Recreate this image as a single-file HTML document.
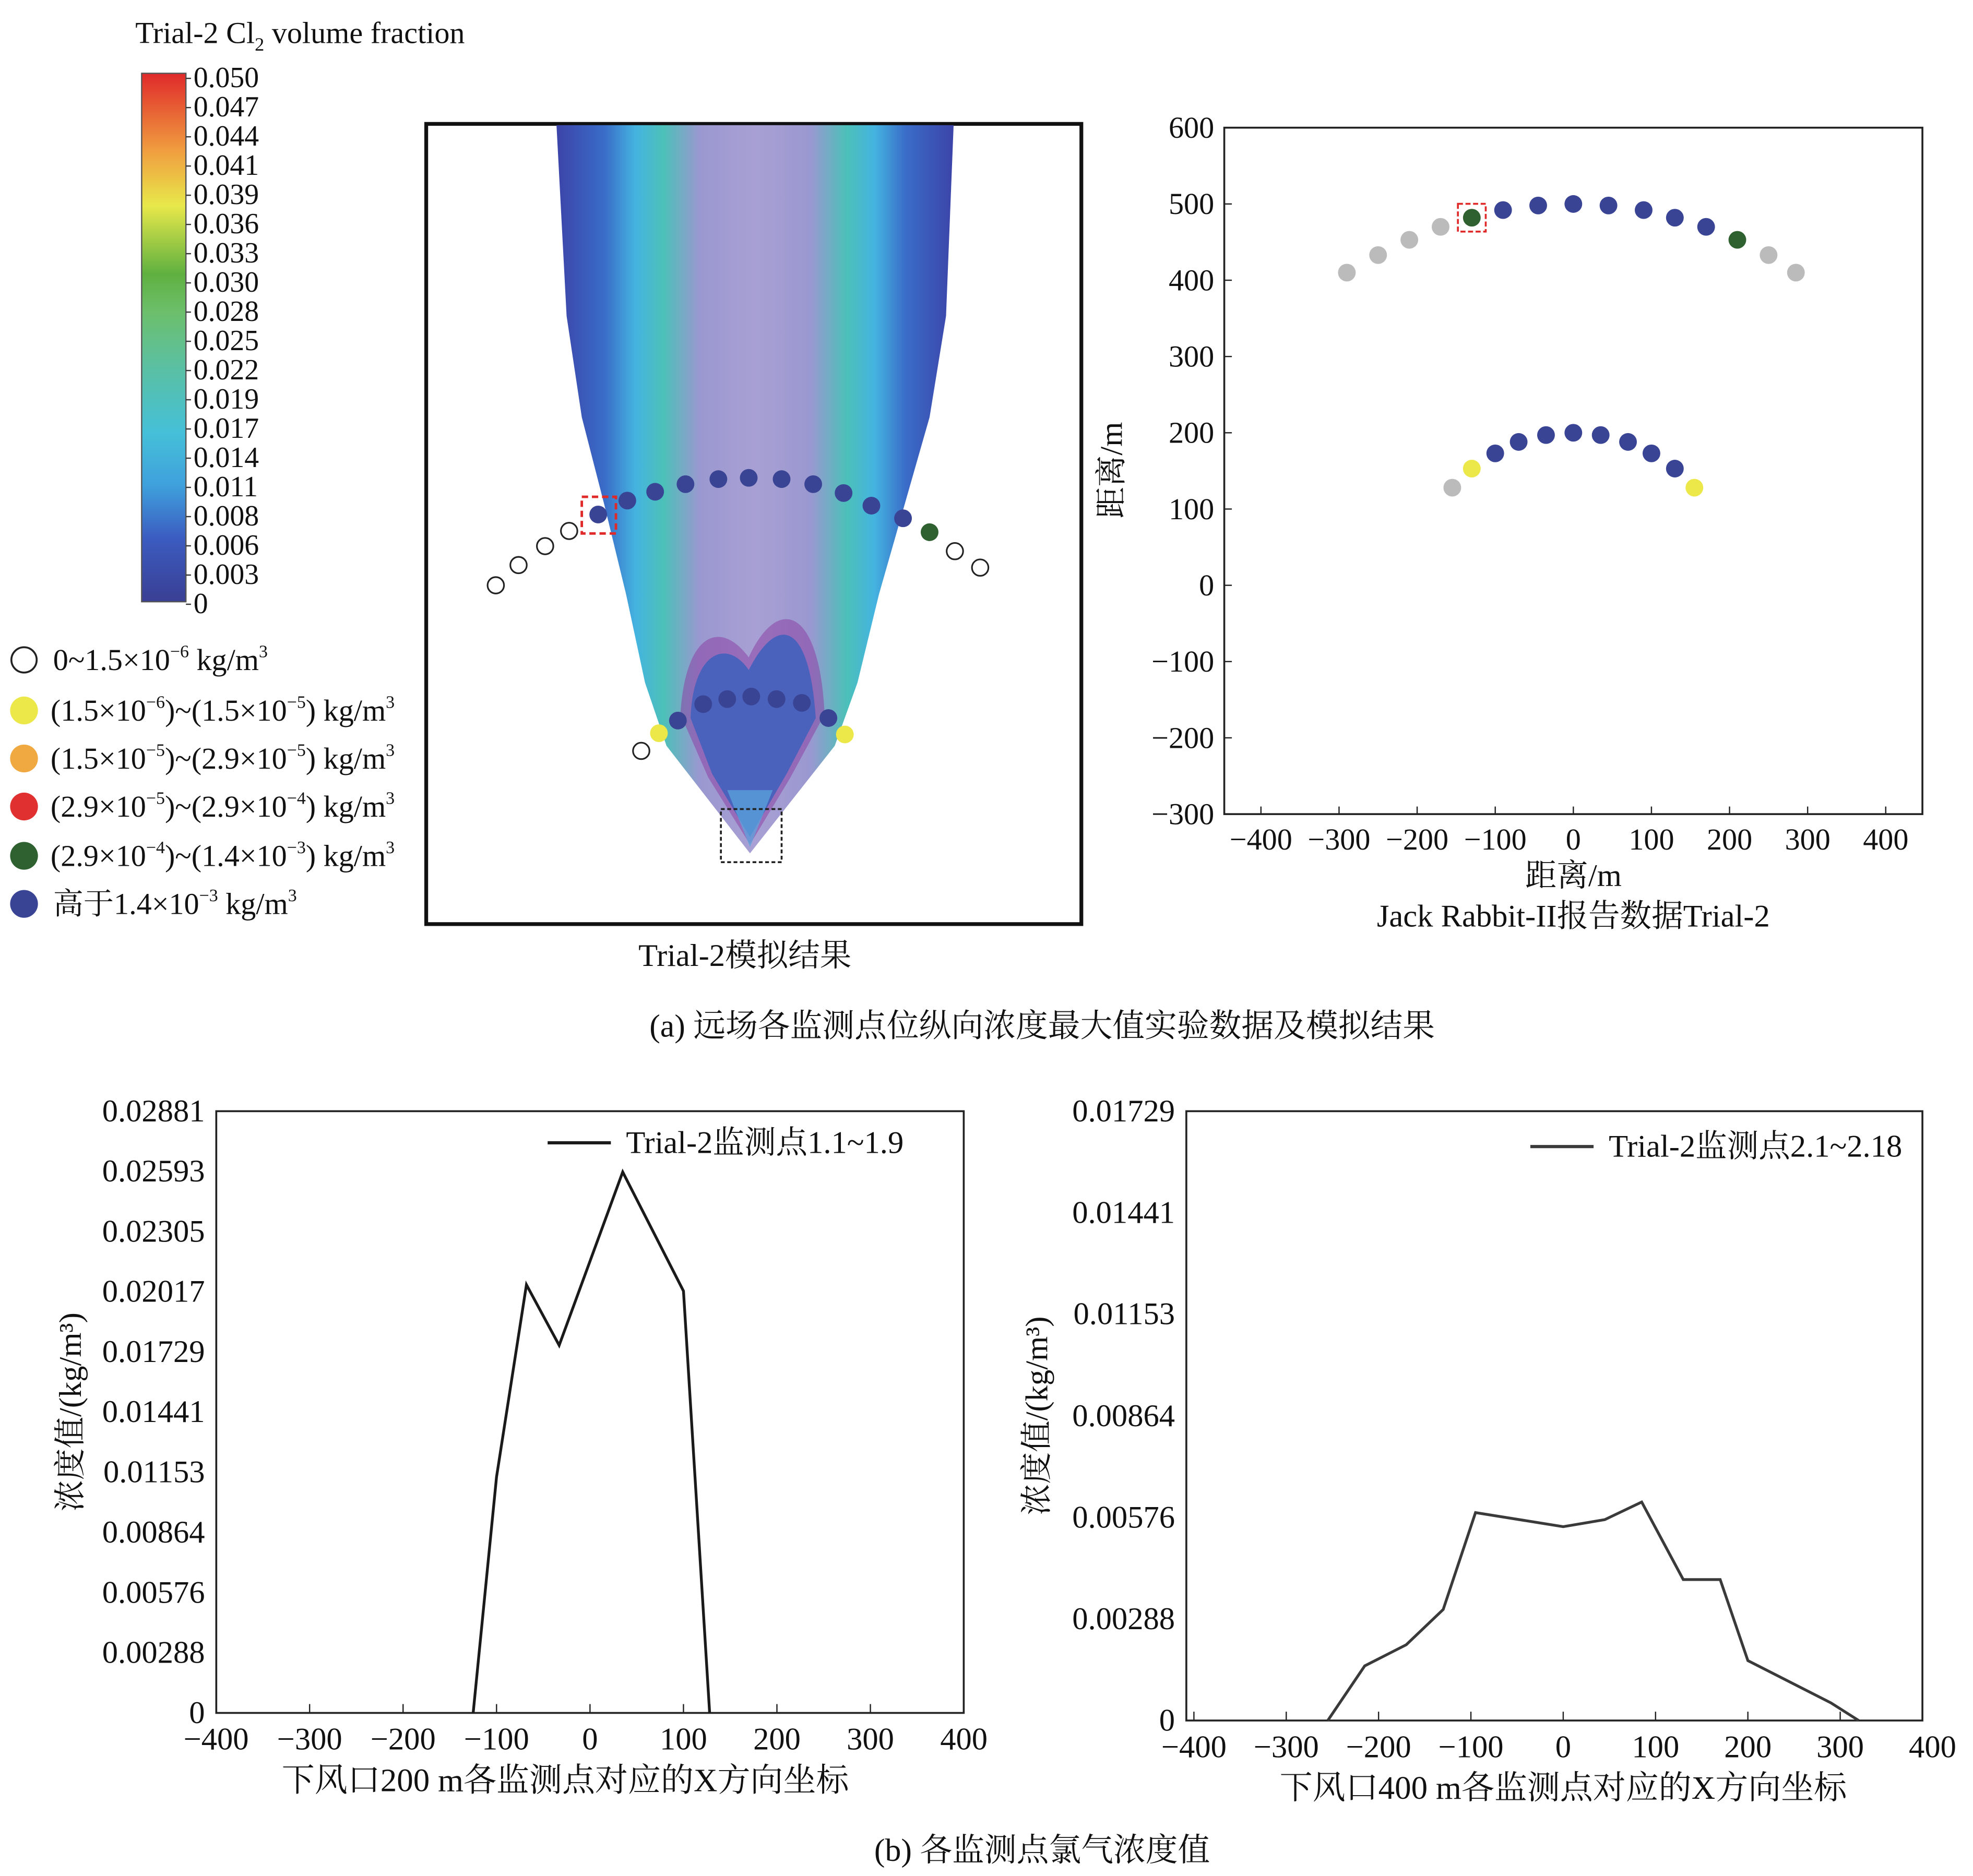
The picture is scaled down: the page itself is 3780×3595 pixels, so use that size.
<!DOCTYPE html>
<html><head><meta charset="utf-8"><style>
html,body{margin:0;padding:0;background:#fff}
svg{display:block}
text{font-family:"Liberation Serif","Noto Serif CJK SC","Noto Sans CJK SC",serif;fill:#111}
</style></head><body>
<svg id="fig" width="3780" height="3595" viewBox="0 0 1560 1484" preserveAspectRatio="none" xmlns="http://www.w3.org/2000/svg">
<defs>
<linearGradient id="cbar" x1="0" y1="1" x2="0" y2="0">
<stop offset="0" stop-color="#3a3f94"/><stop offset="0.12" stop-color="#3b5cc0"/><stop offset="0.22" stop-color="#3fa0dc"/><stop offset="0.32" stop-color="#45c0d8"/><stop offset="0.45" stop-color="#5cc0a0"/><stop offset="0.55" stop-color="#6cbf6a"/><stop offset="0.62" stop-color="#5fb040"/><stop offset="0.75" stop-color="#e8e84a"/><stop offset="0.85" stop-color="#f0a040"/><stop offset="1" stop-color="#e02a2a"/>
</linearGradient>
<linearGradient id="plume" x1="0" y1="0" x2="1" y2="0">
<stop offset="0" stop-color="#3c44a8"/><stop offset="0.12" stop-color="#3a6cc8"/><stop offset="0.2" stop-color="#44b4e0"/><stop offset="0.27" stop-color="#4cc0b8"/><stop offset="0.36" stop-color="#9a98d0"/><stop offset="0.5" stop-color="#a8a0d4"/><stop offset="0.64" stop-color="#9a98d0"/><stop offset="0.73" stop-color="#4cc0b8"/><stop offset="0.8" stop-color="#44b4e0"/><stop offset="0.88" stop-color="#3a6cc8"/><stop offset="1" stop-color="#3c44a8"/>
</linearGradient>
</defs>

<g>
<text x="107" y="34" font-size="24">Trial-2 Cl<tspan font-size="15" dy="6">2</tspan><tspan dy="-6"> volume fraction</tspan></text>
<rect x="112" y="58" width="35" height="418" fill="url(#cbar)" stroke="#555" stroke-width="1"/>
<g id="cbticks" font-size="23"></g>
</g>

<g font-size="24">
<circle cx="19" cy="522" r="10" fill="#fff" stroke="#222" stroke-width="1.5"/><text x="42" y="530">0~1.5×10<tspan font-size="14" dy="-10">−6</tspan><tspan dy="10"> kg/m</tspan><tspan font-size="14" dy="-10">3</tspan></text>
<circle cx="19" cy="562" r="11" fill="#ece84a"/><text x="40" y="570">(1.5×10<tspan font-size="14" dy="-10">−6</tspan><tspan dy="10">)~(1.5×10</tspan><tspan font-size="14" dy="-10">−5</tspan><tspan dy="10">) kg/m</tspan><tspan font-size="14" dy="-10">3</tspan></text>
<circle cx="19" cy="600" r="11" fill="#f0a840"/><text x="40" y="608">(1.5×10<tspan font-size="14" dy="-10">−5</tspan><tspan dy="10">)~(2.9×10</tspan><tspan font-size="14" dy="-10">−5</tspan><tspan dy="10">) kg/m</tspan><tspan font-size="14" dy="-10">3</tspan></text>
<circle cx="19" cy="638" r="11" fill="#e03030"/><text x="40" y="646">(2.9×10<tspan font-size="14" dy="-10">−5</tspan><tspan dy="10">)~(2.9×10</tspan><tspan font-size="14" dy="-10">−4</tspan><tspan dy="10">) kg/m</tspan><tspan font-size="14" dy="-10">3</tspan></text>
<circle cx="19" cy="677" r="11" fill="#2f6030"/><text x="40" y="685">(2.9×10<tspan font-size="14" dy="-10">−4</tspan><tspan dy="10">)~(1.4×10</tspan><tspan font-size="14" dy="-10">−3</tspan><tspan dy="10">) kg/m</tspan><tspan font-size="14" dy="-10">3</tspan></text>
<circle cx="19" cy="715" r="11" fill="#3a4494"/><text x="42" y="723">高于1.4×10<tspan font-size="14" dy="-10">−3</tspan><tspan dy="10"> kg/m</tspan><tspan font-size="14" dy="-10">3</tspan></text>
</g>

<g>
<rect x="337" y="98" width="518" height="633" fill="#fff" stroke="#111" stroke-width="3"/>
<path d="M440,99 L754,99 L748,250 L735,330 L715,400 L695,470 L678,540 L660,590 L593,675 L527,590 L510,540 L495,470 L478,400 L460,330 L448,250 Z" fill="url(#plume)"/>
<path d="M538,565 C542,500 570,490 592,520 C615,470 648,480 652,565 L625,615 L593,668 L560,615 Z" fill="#8a3aa0" opacity="0.5"/>
<path d="M546,568 C548,515 575,505 592,530 C615,485 640,492 645,568 L622,612 L593,662 L563,612 Z" fill="#4a62bc"/>
<path d="M575,625 L593,670 L611,625 Z" fill="#5aa8e0" opacity="0.7"/>
<rect x="570" y="640" width="48" height="42" fill="none" stroke="#222" stroke-width="1.5" stroke-dasharray="3,2"/>
<g id="simpts"></g>
<rect x="460" y="393" width="27" height="29" fill="none" stroke="#e02a2a" stroke-width="2" stroke-dasharray="5,3"/>
<text x="589" y="764" font-size="25" text-anchor="middle">Trial-2模拟结果</text>
</g>

<g id="scatter"></g>
<text x="824" y="820" font-size="25.5" text-anchor="middle">(a) 远场各监测点位纵向浓度最大值实验数据及模拟结果</text>

<g id="line1"></g>
<g id="line2"></g>
<text x="824" y="1472" font-size="25.5" text-anchor="middle">(b) 各监测点氯气浓度值</text>
</svg>
<script>
const NS='http://www.w3.org/2000/svg';
function mk(tag,attrs,parent,txt){const e=document.createElementNS(NS,tag);for(const k in attrs)e.setAttribute(k,attrs[k]);if(txt!==undefined)e.textContent=txt;parent.appendChild(e);return e;}

const cbLabels=['0.050','0.047','0.044','0.041','0.039','0.036','0.033','0.030','0.028','0.025','0.022','0.019','0.017','0.014','0.011','0.008','0.006','0.003','0'];
const cbg=document.getElementById('cbticks');
cbLabels.forEach((l,i)=>{const y=62+i*(416/18);
const t=mk('text',{x:153,y:y+7},cbg,l);


mk('line',{x1:147,x2:151,y1:y,y2:y,stroke:'#333'},cbg);});

const simX=[392,410,431,450,473,496,518,542,568,592,618,643,667,689,714,735,755,775,507,521,536,556,575,594,614,634,655,668];
const simY=[463,447,432,420,407,396,389,383,379,378,379,383,390,400,410,421,436,449,594,580,570,557,553,551,553,556,568,581];
const simC=['w','w','w','w','b','b','b','b','b','b','b','b','b','b','b','g','w','w','w','y','b','b','b','b','b','b','b','y'];
const colMap={w:'#fff',b:'#3a4494',g:'#2f6030',y:'#ece84a',r:'#bbb'};
const sg=document.getElementById('simpts');
simX.forEach((x,i)=>{const c=mk('circle',{cx:x,cy:simY[i],r:simC[i]==='w'?6.5:7,fill:colMap[simC[i]],stroke:simC[i]==='w'?'#222':'none','stroke-width':1.3},sg);

});

const scX=[-290,-250,-210,-170,-130,-90,-45,0,45,90,130,170,210,250,285,-155,-130,-100,-70,-35,0,35,70,100,130,155];
const scY=[410,433,453,470,482,492,498,500,498,492,482,470,453,433,410,128,153,173,188,197,200,197,188,173,153,128];
const scC=['r','r','r','r','g','b','b','b','b','b','b','b','g','r','r','r','y','b','b','b','b','b','b','b','b','y'];
const scXTicks=[-400,-300,-200,-100,0,100,200,300,400];
const scYTicks=[600,500,400,300,200,100,0,-100,-200,-300];
(function(){
const g=document.getElementById('scatter');
const L=968,R=1520,T=101,B=644;
const sx=v=>1244+v*0.6175, sy=v=>463+(-v)*0.6033;
mk('rect',{x:L,y:T,width:R-L,height:B-T,fill:'none',stroke:'#222','stroke-width':1.5},g);
scXTicks.forEach(v=>{mk('line',{x1:sx(v),x2:sx(v),y1:B,y2:B-6,stroke:'#222'},g);
const t=mk('text',{x:sx(v),y:B+28,'font-size':24,'text-anchor':'middle'},g,v<0?'−'+(-v):v);
});
scYTicks.forEach(v=>{mk('line',{x1:L,x2:L+6,y1:sy(v),y2:sy(v),stroke:'#222'},g);
const t=mk('text',{x:L-8,y:sy(v)+8,'font-size':24,'text-anchor':'end'},g,v<0?'−'+(-v):v);
});
scX.forEach((x,i)=>{const c=mk('circle',{cx:sx(x),cy:sy(scY[i]),r:7,fill:colMap[scC[i]]},g);
});
mk('rect',{x:sx(-130)-11,y:sy(482)-11,width:22,height:22,fill:'none',stroke:'#e02a2a','stroke-width':1.5,'stroke-dasharray':'4,2'},g);
const yl=mk('text',{x:0,y:0,'font-size':25,'text-anchor':'middle',transform:'translate(887,372) rotate(-90)'},g,'距离/m');

const xl=mk('text',{x:1244,y:701,'font-size':25,'text-anchor':'middle'},g,'距离/m');

const st=mk('text',{x:1244,y:733,'font-size':25,'text-anchor':'middle'},g,'Jack Rabbit-II报告数据Trial-2');

})();

const l1X=[-125,-100,-68,-33,35,100,128];
const l1Y=[0,0.0113,0.0205,0.0176,0.0259,0.0202,0];
const l1YTicks=['0','0.00288','0.00576','0.00864','0.01153','0.01441','0.01729','0.02017','0.02305','0.02593','0.02881'];
const l2X=[-255,-215,-170,-130,-95,0,45,85,130,170,200,290,320];
const l2Y=[0,0.00155,0.00215,0.00315,0.0059,0.0055,0.0057,0.0062,0.0040,0.0040,0.0017,0.0005,0];
const l2YTicks=['0','0.00288','0.00576','0.00864','0.01153','0.01441','0.01729'];
const lineXTicks=[-400,-300,-200,-100,0,100,200,300,400];

function lineChart(id,o){
const g=document.getElementById(id);
const sx=v=>o.x0+v*o.kx, sy=v=>o.B-(v/o.ymax)*(o.B-o.T);
mk('rect',{x:o.L,y:o.T,width:o.R-o.L,height:o.B-o.T,fill:'none',stroke:'#222','stroke-width':1.5},g);
lineXTicks.forEach(v=>{const x=sx(v);if(x>o.L+2&&x<o.R-2)mk('line',{x1:x,x2:x,y1:o.B,y2:o.B-7,stroke:'#222'},g);
const t=mk('text',{x:x,y:o.B+29,'font-size':25,'text-anchor':'middle'},g,v<0?'−'+(-v):v);
});
o.ticks.forEach(l=>{const y=sy(parseFloat(l));
const t=mk('text',{x:o.L-9,y:y+8,'font-size':25,'text-anchor':'end'},g,l);
});
const p=mk('polyline',{points:o.xs.map((x,i)=>sx(x)+','+sy(o.ys[i])).join(' '),fill:'none',stroke:o.col,'stroke-width':2.2,'stroke-linejoin':'miter'},g);

mk('line',{x1:o.lx,x2:o.lx+50,y1:o.ly,y2:o.ly,stroke:o.col,'stroke-width':2.5},g);
const lt=mk('text',{x:o.lx+62,y:o.ly+8,'font-size':25},g,o.leg);

const yt=mk('text',{x:0,y:0,'font-size':25,'text-anchor':'middle',transform:'translate('+o.ytx+','+((o.T+o.B)/2)+') rotate(-90)'},g,'浓度值/(kg/m³)');

const xt=mk('text',{x:o.xtc,y:o.B+62,'font-size':26,'text-anchor':'middle'},g,o.xtitle);

}
lineChart('line1',{L:171,R:762,T:879,B:1355,x0:466.5,kx:0.739,ymax:0.02881,ticks:l1YTicks,xs:l1X,ys:l1Y,col:'#1a1a1a',lx:433,ly:904,leg:'Trial-2监测点1.1~1.9',ytx:64,xtc:447,xtitle:'下风口200 m各监测点对应的X方向坐标'});
lineChart('line2',{L:938,R:1520,T:879,B:1361,x0:1236,kx:0.73,ymax:0.01729,ticks:l2YTicks,xs:l2X,ys:l2Y,col:'#3a3a3a',lx:1210,ly:907,leg:'Trial-2监测点2.1~2.18',ytx:828,xtc:1236,xtitle:'下风口400 m各监测点对应的X方向坐标'});
</script>
</body></html>
